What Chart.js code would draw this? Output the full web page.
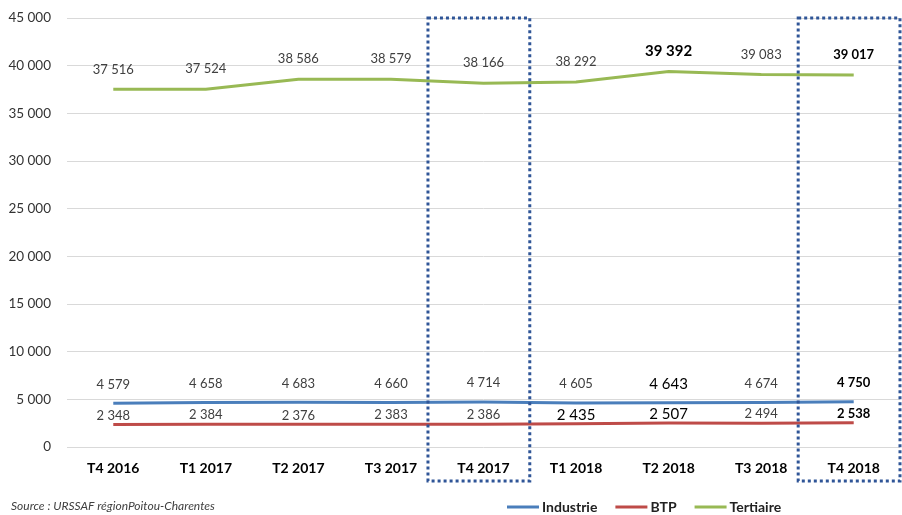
<!DOCTYPE html>
<html lang="fr">
<head>
<meta charset="utf-8">
<script src="https://cdn.jsdelivr.net/npm/chart.js@4.4.1/dist/chart.umd.min.js"></script>
<style>
    html, body { margin: 0; padding: 0; background: #fff; }
    #wrap { position: relative; width: 902px; height: 515px; }
</style>
</head>
<body>
<div id="wrap"><canvas id="chart" width="902" height="515"></canvas></div>
<script>
// Data
const quarters = ["T4 2016", "T1 2017", "T2 2017", "T3 2017", "T4 2017", "T1 2018", "T2 2018", "T3 2018", "T4 2018"];
const industrie = [4579, 4658, 4683, 4660, 4714, 4605, 4643, 4674, 4750];
const btp = [2348, 2384, 2376, 2383, 2386, 2435, 2507, 2494, 2538];
const tertiaire = [37516, 37524, 38586, 38579, 38166, 38292, 39392, 39083, 39017];
const yTicks = [0, 5000, 10000, 15000, 20000, 25000, 30000, 35000, 40000, 45000];
const highlighted = [4, 8]; // quarters framed with a dotted box

const FONT = "Lato, 'Open Sans', sans-serif";

// "37516" -> "37 516"
function fmt(v) {
    return String(v).replace(/\B(?=(\d{3})+(?!\d))/g, " ");
}

// label styles per point: [size, weight]
const labelStyles = {
    industrie: { 6: [15, "normal"], 8: [13, "bold"] },
    btp: { 5: [15, "normal"], 6: [15, "normal"], 8: [13, "bold"] },
    tertiaire: { 6: [15, "bold"], 8: [13, "bold"] }
};
const labelOffsets = { industrie: 19, btp: 9, tertiaire: 20 };

// Value labels above each point
const valueLabels = {
    id: "valueLabels",
    afterDatasetsDraw(chart) {
        const ctx = chart.ctx;
        ctx.save();
        ctx.textAlign = "center";
        ctx.textBaseline = "middle";
        chart.data.datasets.forEach((ds, di) => {
            const meta = chart.getDatasetMeta(di);
            const styles = labelStyles[ds.key] || {};
            meta.data.forEach((pt, i) => {
                const st = styles[i] || [13, "normal"];
                ctx.font = `${st[1]} ${st[0]}px ${FONT}`;
                ctx.fillStyle = st[1] === "bold" || st[0] > 13 ? "#000" : "#404040";
                ctx.fillText(fmt(ds.data[i]), pt.x, pt.y - labelOffsets[ds.key]);
            });
        });
        ctx.restore();
    }
};

// Dotted frames, source note and legend
const extras = {
    id: "extras",
    afterDraw(chart) {
        const ctx = chart.ctx;
        const x = chart.scales.x;
        const area = chart.chartArea;
        const w = x.getPixelForValue(1) - x.getPixelForValue(0);
        ctx.save();
        ctx.strokeStyle = "#2F5597";
        ctx.lineWidth = 3;
        ctx.setLineDash([3, 3]);
        highlighted.forEach(i => {
            const cx = x.getPixelForValue(i);
            const left = cx - 0.6 * w;
            const right = cx + 0.5 * w;
            ctx.strokeRect(left, area.top, right - left, 481 - area.top);
        });
        ctx.setLineDash([]);

        // source
        ctx.font = `italic 12px ${FONT}`;
        ctx.fillStyle = "#404040";
        ctx.textAlign = "left";
        ctx.textBaseline = "middle";
        ctx.fillText("Source : URSSAF régionPoitou-Charentes", 11, 506);

        // legend
        let lx = 507;
        const ly = 507;
        ctx.font = `bold 14px ${FONT}`;
        ctx.fillStyle = "#222";
        chart.data.datasets.forEach(ds => {
            ctx.strokeStyle = ds.borderColor;
            ctx.lineWidth = 3;
            ctx.beginPath();
            ctx.moveTo(lx, ly);
            ctx.lineTo(lx + 32, ly);
            ctx.stroke();
            ctx.fillText(ds.label, lx + 35, ly);
            lx += 35 + ctx.measureText(ds.label).width + 18;
        });
        ctx.restore();
    }
};

new Chart(document.getElementById("chart"), {
    type: "line",
    data: {
        labels: quarters,
        datasets: [
            { key: "industrie", label: "Industrie", data: industrie, borderColor: "#4A7EBB" },
            { key: "btp", label: "BTP", data: btp, borderColor: "#BE4B48" },
            { key: "tertiaire", label: "Tertiaire", data: tertiaire, borderColor: "#98B954" }
        ].map(d => Object.assign(d, { borderWidth: 3, pointRadius: 0, tension: 0, fill: false }))
    },
    options: {
        responsive: false,
        animation: false,
        layout: { padding: { top: 18, right: 2, left: 0, bottom: 0 } },
        plugins: { legend: { display: false }, tooltip: { enabled: false } },
        scales: {
            x: {
                offset: true,
                grid: { display: false, drawTicks: false },
                border: { display: false },
                ticks: { color: "#000", font: { family: FONT, size: 14, weight: "bold" }, padding: 13, maxRotation: 0 },
                afterFit(scale) { scale.height = 68; }
            },
            y: {
                min: 0,
                max: 45000,
                afterBuildTicks(scale) { scale.ticks = yTicks.map(v => ({ value: v })); },
                grid: { color: "#D9D9D9", drawTicks: false },
                border: { display: false },
                ticks: { color: "#333", font: { family: FONT, size: 13.5 }, padding: 16, callback: v => fmt(v) },
                afterFit(scale) {
                    scale.width = 67;
                    scale.paddingTop = 0;
                    scale.paddingBottom = 0;
                }
            }
        }
    },
    plugins: [valueLabels, extras]
});
</script>
</body>
</html>
